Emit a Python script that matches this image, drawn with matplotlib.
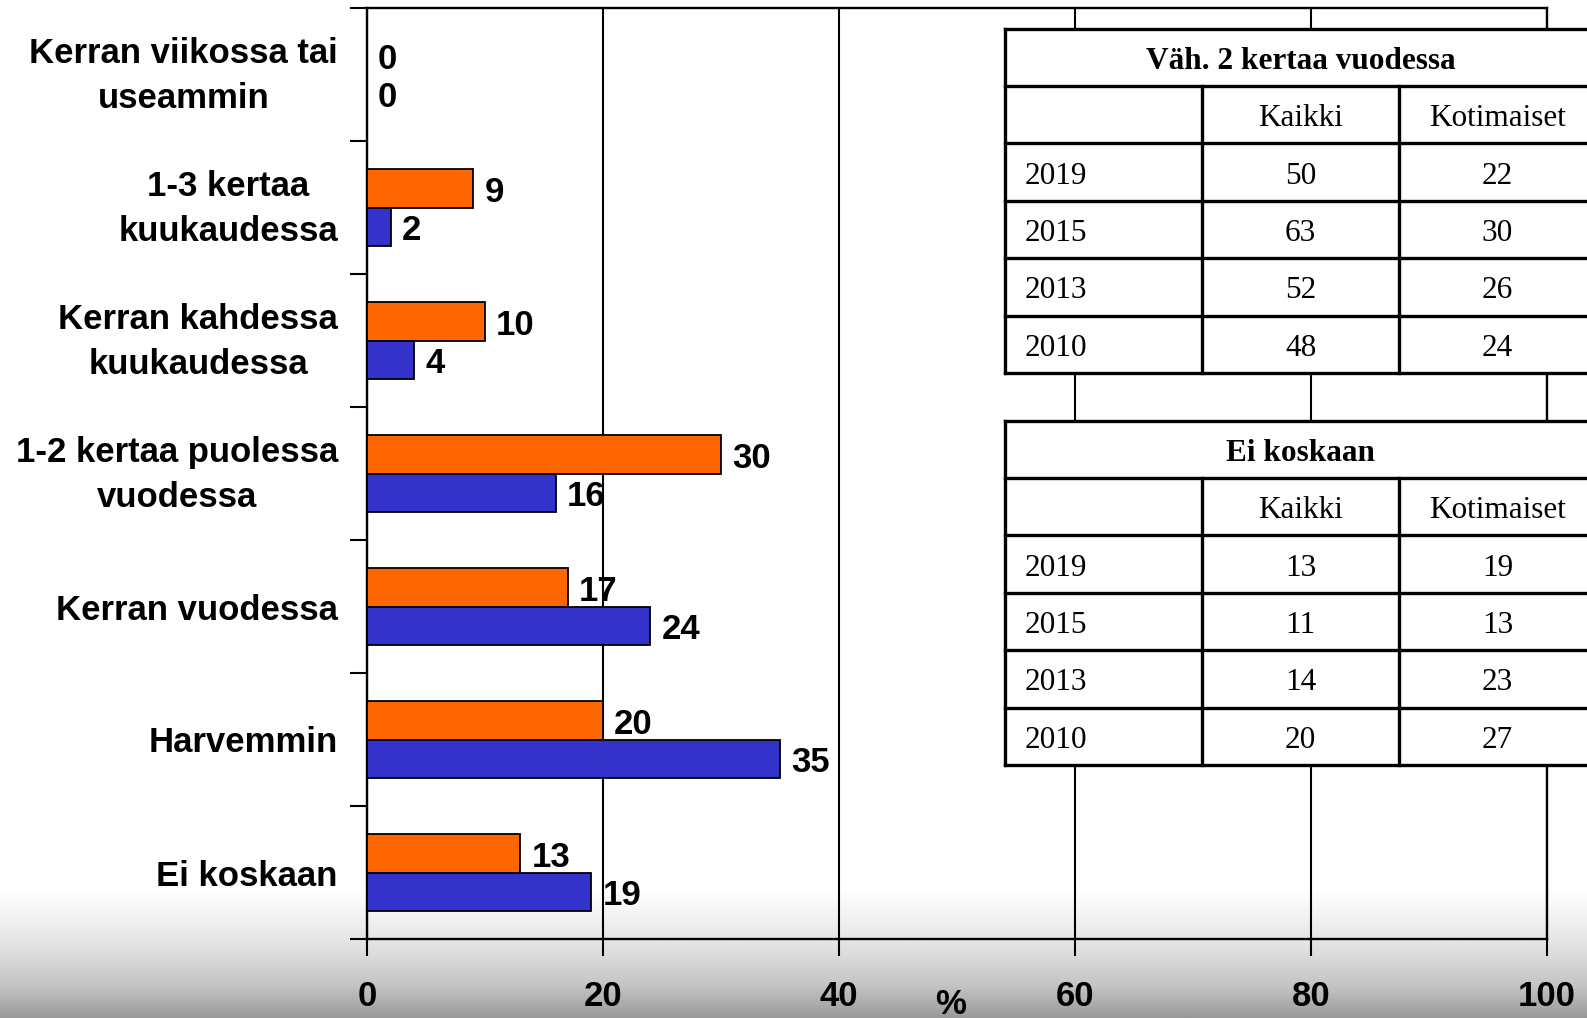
import numpy as np
import matplotlib
matplotlib.use("Agg")
import matplotlib.pyplot as plt
import matplotlib.transforms as mtransforms
from matplotlib.patches import Rectangle

# data
categories = ["Kerran viikossa tai\nuseammin", "1-3 kertaa\nkuukaudessa",
              "Kerran kahdessa\nkuukaudessa", "1-2 kertaa puolessa\nvuodessa",
              "Kerran vuodessa", "Harvemmin", "Ei koskaan"]
kaikki = [0, 9, 10, 30, 17, 20, 13]
kotimaiset = [0, 2, 4, 16, 24, 35, 19]
x_ticks = [0, 20, 40, 60, 80, 100]

years = ["2019", "2015", "2013", "2010"]
vah_kaikki = [50, 63, 52, 48]
vah_koti = [22, 30, 26, 24]
ei_kaikki = [13, 11, 14, 20]
ei_koti = [19, 13, 23, 27]

W, H = 1587, 1018
fig = plt.figure(figsize=(W / 100, H / 100), dpi=100)
fig.patch.set_facecolor("white")

# background gradient at the bottom
bg = fig.add_axes([0, 0, 1, 1], zorder=-10)
ys = np.arange(H)
shade = np.interp(ys, [0, 890, 940, 985, H], [1.0, 1.0, 0.90, 0.77, 0.60])
grad = np.repeat(shade[:, None], 2, axis=1)
bg.imshow(grad, cmap="gray", vmin=0, vmax=1, aspect="auto", extent=[0, 1, 1, 0])
bg.set_xlim(0, 1)
bg.set_ylim(1, 0)
bg.axis("off")

# main chart
left, right, top, bottom = 367, 1547, 8, 939
ax = fig.add_axes([left / W, 1 - bottom / H, (right - left) / W, (bottom - top) / H])
ax.set_facecolor("none")

sans = "Liberation Sans"
serif = "Liberation Serif"

pos = np.arange(len(categories)) + 0.5
h = 0.29
ax.barh(pos - h / 2, kaikki, height=h, color="#FF6600", edgecolor="black", linewidth=1.3, zorder=3)
ax.barh(pos + h / 2, kotimaiset, height=h, color="#3333CC", edgecolor="black", linewidth=1.3, zorder=3)
for vals, off in ((kaikki, -h / 2), (kotimaiset, h / 2)):
    for p, v in zip(pos, vals):
        ax.annotate(str(v), (v, p + off), xytext=(8, -3), textcoords="offset points",
                    ha="left", va="center", fontsize=25, fontweight="bold", family=sans, zorder=4)

ax.set_xlim(0, 100)
ax.set_ylim(len(categories), 0)

ax.set_xticks(x_ticks)
ax.set_xticklabels([str(t) for t in x_ticks], fontsize=25, fontweight="bold", family=sans)
ax.tick_params(axis="x", direction="out", length=12, width=1.5, pad=17.5)

ax.set_yticks(np.arange(len(categories) + 1))
ax.set_yticklabels([])
ax.tick_params(axis="y", which="major", direction="out", length=12, width=1.5)
ax.set_yticks(pos, minor=True)
ax.set_yticklabels(categories, minor=True, fontsize=25, fontweight="bold", family=sans)
ax.tick_params(axis="y", which="minor", length=0, pad=21)
shift_up = mtransforms.ScaledTranslation(0, 5.5 / 72, fig.dpi_scale_trans)
for t in ax.get_yticklabels(minor=True):
    t.set_multialignment("center")
    t.set_linespacing(1.45)
    if "\n" in t.get_text():
        t.set_transform(t.get_transform() + shift_up)

ax.grid(axis="x", color="black", linewidth=1.5, zorder=1)
ax.set_axisbelow(True)
for s in ax.spines.values():
    s.set_linewidth(1.7)
    s.set_color("black")

ax.set_xlabel("%", fontsize=25, fontweight="bold", family=sans)
ax.xaxis.set_label_coords((951 - left) / (right - left), (bottom - 988) / (bottom - top))

# overlay tables in pixel coordinates
ov = fig.add_axes([0, 0, 1, 1], zorder=5)
ov.set_xlim(0, W)
ov.set_ylim(H, 0)
ov.axis("off")
ov.set_facecolor("none")


def draw_table(t_top, title, col1, col2):
    cols = [1005, 1202, 1399, 1596]
    rh = 57.4
    n = len(years) + 2
    rows = [t_top + i * rh for i in range(n + 1)]
    ov.add_patch(Rectangle((cols[0], rows[0]), cols[-1] - cols[0], rows[-1] - rows[0],
                           facecolor="white", edgecolor="none", zorder=1))
    lw = 2.4
    for y in rows:
        ov.plot([cols[0], cols[-1]], [y, y], color="black", lw=lw, zorder=2, solid_capstyle="projecting")
    for x in cols:
        y0 = rows[0] if x in (cols[0], cols[-1]) else rows[1]
        ov.plot([x, x], [y0, rows[-1]], color="black", lw=lw, zorder=2, solid_capstyle="projecting")
    fs = 22.5
    dy = 4
    ov.text((cols[0] + cols[-1]) / 2, (rows[0] + rows[1]) / 2 + dy, title, ha="center", va="center",
            fontsize=fs, fontweight="bold", family=serif, zorder=3)
    ov.text((cols[1] + cols[2]) / 2, (rows[1] + rows[2]) / 2 + dy, "Kaikki", ha="center", va="center",
            fontsize=fs, family=serif, zorder=3)
    ov.text((cols[2] + cols[3]) / 2, (rows[1] + rows[2]) / 2 + dy, "Kotimaiset", ha="center", va="center",
            fontsize=fs, family=serif, zorder=3)
    for i, yr in enumerate(years):
        yc = (rows[i + 2] + rows[i + 3]) / 2 + dy
        ov.text(cols[0] + 20, yc, yr, ha="left", va="center", fontsize=fs, family=serif, zorder=3)
        ov.text((cols[1] + cols[2]) / 2, yc, str(col1[i]), ha="center", va="center",
                fontsize=fs, family=serif, zorder=3)
        ov.text((cols[2] + cols[3]) / 2, yc, str(col2[i]), ha="center", va="center",
                fontsize=fs, family=serif, zorder=3)


draw_table(28.5, "Väh. 2 kertaa vuodessa", vah_kaikki, vah_koti)
draw_table(420.5, "Ei koskaan", ei_kaikki, ei_koti)

fig.savefig("out.png", dpi=100)
